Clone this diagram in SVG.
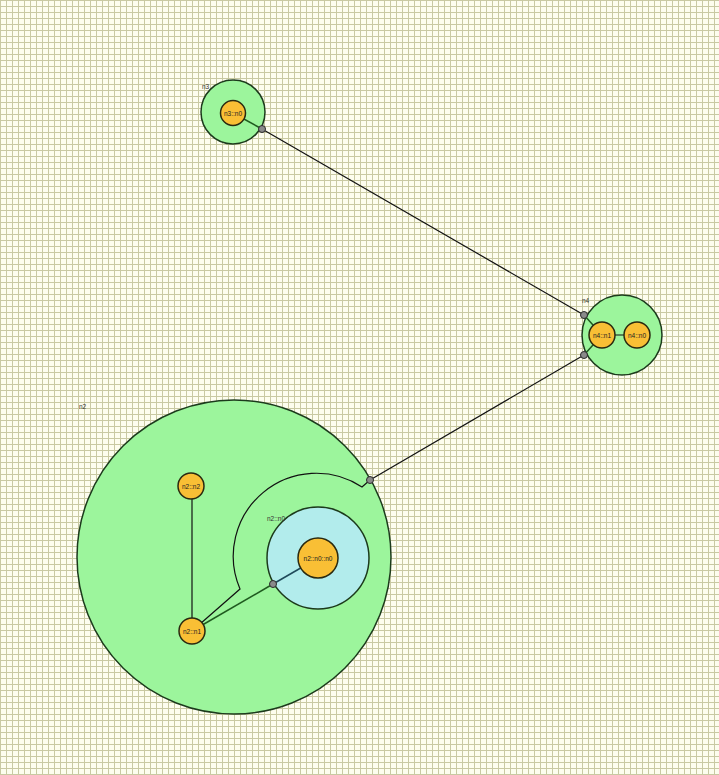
<svg xmlns="http://www.w3.org/2000/svg" width="719" height="775" viewBox="0 0 719 775">
<defs>
<pattern id="grid" x="0" y="0" width="6" height="6" patternUnits="userSpaceOnUse">
<rect width="6" height="6" fill="#fdfdee"/>
<path d="M0.5 0 V6 M0 0.5 H6" stroke="#c9c9a2" stroke-width="1" fill="none"/>
</pattern>
<style>
.grp{fill:#9cf59c;stroke:#1c3a1c;stroke-width:1.5}
.blue{fill:#b2ecec;stroke:#1c3a1c;stroke-width:1.5}
.leaf{fill:#f9bf35;stroke:#2a2a10;stroke-width:1.5}
.port{fill:#8a8a8a;stroke:#2a2a2a;stroke-width:1}
.lbl{font-family:"Liberation Sans",Arial,sans-serif;font-size:6.5px;fill:#333}
.in{font-family:"Liberation Sans",Arial,sans-serif;font-size:6.5px;fill:#222;text-anchor:middle;dominant-baseline:central}
.e{fill:none;stroke:#111;stroke-width:1.2}
.eg{fill:none;stroke:#1f5a1f;stroke-width:1.5}
.eb{fill:none;stroke:#1f4a5a;stroke-width:1.5}
</style>
</defs>
<rect width="719" height="775" fill="url(#grid)"/>

<g id="n3">
<circle class="grp" cx="233" cy="112" r="32"/>
<text class="lbl" x="202" y="89">n3</text>
</g>
<g id="n4">
<circle class="grp" cx="622" cy="335" r="40"/>
<text class="lbl" x="582" y="303">n4</text>
</g>
<g id="n2">
<circle class="grp" cx="234" cy="557" r="157"/>
<text class="lbl" x="79" y="409">n2</text>
</g>
<g id="n2_n0">
<circle class="blue" cx="318" cy="558" r="51"/>
<text class="lbl" x="267" y="521">n2::n0</text>
</g>

<g id="edges">
<line class="eg" x1="233" y1="113" x2="262" y2="129"/>
<line class="e" x1="262" y1="129" x2="584" y2="315"/>
<line class="eg" x1="584" y1="315" x2="602" y2="335"/>
<line class="eg" x1="584" y1="355" x2="602" y2="335"/>
<line class="e" x1="602" y1="335" x2="637" y2="335"/>
<line class="e" x1="370" y1="480" x2="584" y2="355"/>
<path class="e" d="M192 631 L240 589 A83 83 0 0 1 362 487 L370 480"/>
<line class="e" x1="192" y1="486" x2="192" y2="631"/>
<line class="eg" x1="192" y1="631" x2="273" y2="584"/>
<line class="eb" x1="273" y1="584" x2="318" y2="558"/>
</g>

<g id="n3_n0">
<circle class="leaf" cx="233" cy="113" r="12.5"/>
<text class="in" x="233" y="113">n3::n0</text>
</g>
<g id="n4_n1">
<circle class="leaf" cx="602" cy="335" r="13"/>
<text class="in" x="602" y="335">n4::n1</text>
</g>
<g id="n4_n0">
<circle class="leaf" cx="637" cy="335" r="13"/>
<text class="in" x="637" y="335">n4::n0</text>
</g>
<g id="n2_n2">
<circle class="leaf" cx="191" cy="486" r="13"/>
<text class="in" x="191" y="486">n2::n2</text>
</g>
<g id="n2_n1">
<circle class="leaf" cx="192" cy="631" r="13"/>
<text class="in" x="192" y="631">n2::n1</text>
</g>
<g id="n2_n0_n0">
<circle class="leaf" cx="318" cy="558" r="20"/>
<text class="in" x="318" y="558">n2::n0::n0</text>
</g>

<g id="ports">
<circle class="port" cx="262" cy="129" r="3.5"/>
<circle class="port" cx="584" cy="315" r="3.5"/>
<circle class="port" cx="584" cy="355" r="3.5"/>
<circle class="port" cx="370" cy="480" r="3.5"/>
<circle class="port" cx="273" cy="584" r="3.5"/>
</g>
</svg>
